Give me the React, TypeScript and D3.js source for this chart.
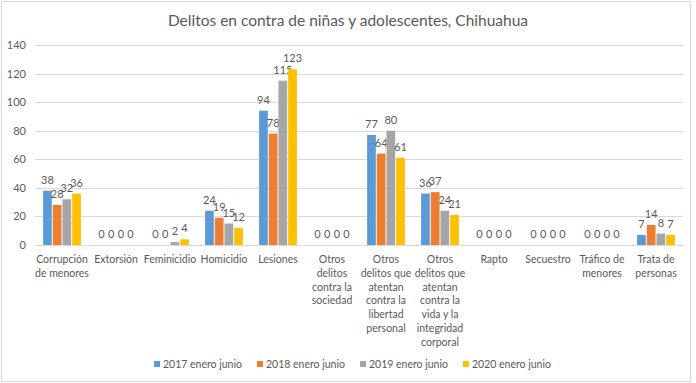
import React from "react";
import * as d3 from "d3";

const categories: string[][] = [
  ["Corrupción", "de menores"],
  ["Extorsión"],
  ["Feminicidio"],
  ["Homicidio"],
  ["Lesiones"],
  ["Otros", "delitos", "contra la", "sociedad"],
  ["Otros", "delitos que", "atentan", "contra la", "libertad", "personal"],
  ["Otros", "delitos que", "atentan", "contra la", "vida y la", "integridad", "corporal"],
  ["Rapto"],
  ["Secuestro"],
  ["Tráfico de", "menores"],
  ["Trata de", "personas"],
];

const seriesNames = ["2017 enero junio", "2018 enero junio", "2019 enero junio", "2020 enero junio"];
const s2017 = [38, 0, 0, 24, 94, 0, 77, 36, 0, 0, 0, 7];
const s2018 = [28, 0, 0, 19, 78, 0, 64, 37, 0, 0, 0, 14];
const s2019 = [32, 0, 2, 15, 115, 0, 80, 24, 0, 0, 0, 8];
const s2020 = [36, 0, 4, 12, 123, 0, 61, 21, 0, 0, 0, 7];
const colors = ["#5B9BD5", "#ED7D31", "#A5A5A5", "#FFC000"];
const yTicks = [0, 20, 40, 60, 80, 100, 120, 140];

const W = 696;
const H = 383;
const FONT = "Lato, 'Open Sans', sans-serif";
const TXT = "#595959";

export default function App() {
  const series = [s2017, s2018, s2019, s2020];
  const left = 35, right = 683, top = 45, bottom = 245;
  const x0 = d3.scaleBand<number>().domain(d3.range(categories.length)).range([left, right]).paddingInner(0.3).paddingOuter(0.15);
  const x1 = d3.scaleBand<number>().domain(d3.range(series.length)).range([0, x0.bandwidth()]).paddingInner(0.1);
  const y = d3.scaleLinear().domain([0, 140]).range([bottom, top]);
  const legendX = [154, 257, 360, 463];

  return (
    <svg width={W} height={H} style={{ position: "absolute", left: 0, top: 0, fontFamily: FONT }}>
      <rect x={0} y={0} width={W} height={H} fill="#fff" />
      <rect x={1.5} y={1.5} width={689} height={380} fill="none" stroke="#D9D9D9" strokeWidth={1} />
      <text x={348} y={26} textAnchor="middle" fontSize={15.5} fill={TXT}>
        Delitos en contra de niñas y adolescentes, Chihuahua
      </text>
      {yTicks.map((t) => (
        <g key={t}>
          <line x1={left} x2={right} y1={Math.round(y(t)) + 0.5} y2={Math.round(y(t)) + 0.5} stroke="#D9D9D9" />
          <text x={26} y={y(t) + 4} textAnchor="end" fontSize={11} fill={TXT}>
            {t}
          </text>
        </g>
      ))}
      {categories.map((_, i) =>
        series.map((s, j) => {
          const v = s[i];
          const bx = (x0(i) as number) + (x1(j) as number);
          const bw = x1.bandwidth();
          return (
            <g key={`${i}-${j}`}>
              {v > 0 && <rect x={bx} y={y(v)} width={bw} height={y(0) - y(v)} fill={colors[j]} />}
              <text x={bx + bw / 2} y={y(v) - 7} textAnchor="middle" fontSize={11} fill={TXT}>
                {v}
              </text>
            </g>
          );
        })
      )}
      {categories.map((lines, i) => (
        <text key={i} textAnchor="middle" fontSize={10.5} fill={TXT}>
          {lines.map((ln, k) => (
            <tspan key={k} x={(x0(i) as number) + x0.bandwidth() / 2} y={263 + k * 13.8}>
              {ln}
            </tspan>
          ))}
        </text>
      ))}
      {seriesNames.map((n, j) => (
        <g key={n}>
          <rect x={legendX[j]} y={361} width={6} height={6} fill={colors[j]} />
          <text x={legendX[j] + 9} y={368} fontSize={10.5} fill={TXT}>
            {n}
          </text>
        </g>
      ))}
    </svg>
  );
}
